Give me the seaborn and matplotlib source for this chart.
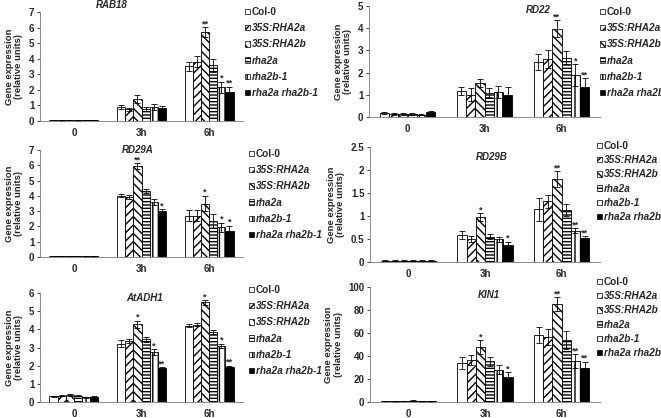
import numpy as np
import pandas as pd
import seaborn as sns
import matplotlib.pyplot as plt
from matplotlib.patches import Patch
from matplotlib.ticker import FuncFormatter

sns.set_style('white')
plt.rcParams['font.family'] = ['Liberation Sans', 'DejaVu Sans']
plt.rcParams['font.weight'] = 'bold'
plt.rcParams['hatch.linewidth'] = 1.0

times = ['0', '3h', '6h']
genotypes = ['Col-0', '35S:RHA2a', '35S:RHA2b', 'rha2a', 'rha2b-1', 'rha2a rha2b-1']

# values[genotype][time] ; errors the same ; stars per genotype for 3h / 6h
rab18_val = [[0.05, 0.92, 3.52], [0.04, 0.74, 3.8], [0.05, 1.41, 5.72],
             [0.04, 0.75, 3.58], [0.05, 0.92, 2.17], [0.05, 0.82, 1.84]]
rab18_err = [[0.01, 0.12, 0.3], [0.01, 0.1, 0.35], [0.01, 0.25, 0.3],
             [0.01, 0.12, 0.42], [0.01, 0.2, 0.35], [0.01, 0.12, 0.35]]
rab18_star = [['', '', ''], ['', '', ''], ['', '', '**'],
              ['', '', ''], ['', '', '*'], ['', '', '**']]

rd22_val = [[0.18, 1.17, 2.48], [0.15, 1.0, 2.6], [0.15, 1.52, 3.98],
            [0.12, 1.1, 2.67], [0.1, 1.12, 1.88], [0.22, 0.98, 1.37]]
rd22_err = [[0.04, 0.2, 0.38], [0.04, 0.3, 0.4], [0.04, 0.18, 0.38],
            [0.04, 0.2, 0.3], [0.03, 0.28, 0.5], [0.04, 0.35, 0.38]]
rd22_star = [['', '', ''], ['', '', ''], ['', '', '**'],
             ['', '', ''], ['', '', '*'], ['', '', '**']]

rd29a_val = [[0.05, 4.02, 2.7], [0.05, 3.92, 2.7], [0.07, 5.95, 3.5],
             [0.05, 4.32, 2.35], [0.04, 3.6, 1.95], [0.04, 3.0, 1.68]]
rd29a_err = [[0.01, 0.12, 0.35], [0.01, 0.12, 0.35], [0.02, 0.2, 0.5],
             [0.01, 0.12, 0.45], [0.01, 0.2, 0.3], [0.01, 0.12, 0.35]]
rd29a_star = [['', '', ''], ['', '', ''], ['', '**', '*'],
              ['', '', ''], ['', '', '*'], ['', '*', '*']]

rd29b_val = [[0.03, 0.58, 1.15], [0.03, 0.5, 1.32], [0.03, 0.98, 1.8],
             [0.03, 0.55, 1.13], [0.03, 0.49, 0.68], [0.03, 0.37, 0.52]]
rd29b_err = [[0.005, 0.09, 0.25], [0.005, 0.07, 0.14], [0.005, 0.08, 0.17],
             [0.005, 0.05, 0.14], [0.005, 0.05, 0.06], [0.005, 0.07, 0.04]]
rd29b_star = [['', '', ''], ['', '', ''], ['', '*', '**'],
              ['', '', ''], ['', '', '**'], ['', '*', '**']]

adh1_val = [[0.32, 3.22, 4.2], [0.35, 3.35, 4.25], [0.38, 4.27, 5.48],
            [0.35, 3.45, 3.85], [0.25, 2.75, 3.1], [0.3, 1.85, 1.95]]
adh1_err = [[0.03, 0.2, 0.08], [0.03, 0.12, 0.08], [0.05, 0.2, 0.12],
            [0.03, 0.15, 0.1], [0.05, 0.15, 0.12], [0.04, 0.05, 0.05]]
adh1_star = [['', '', ''], ['', '', ''], ['', '*', '*'],
             ['', '', ''], ['', '*', '*'], ['', '**', '**']]

kin1_val = [[1.0, 34, 58.5], [0.5, 36.5, 56.5], [1.0, 48, 85],
            [1.2, 35.5, 54], [0.5, 28, 35.5], [0.5, 22, 30]]
kin1_err = [[0.3, 5, 7], [0.3, 4, 7], [0.3, 6, 6],
            [0.5, 4, 8], [0.2, 4, 6], [0.2, 4, 5]]
kin1_star = [['', '', ''], ['', '', ''], ['', '*', '**'],
             ['', '', ''], ['', '', '**'], ['', '*', '**']]

colors = ['white', 'white', 'white', 'white', 'white', 'black']
hatches = ['', '////', '\\\\\\\\', '-----', '|||', '']
italic = [False, True, True, True, True, True]

W, H = 661, 418
fig = plt.figure(figsize=(6.61, 4.18), dpi=100)


def px(l, t, r, b):
    return [l / W, 1 - b / H, (r - l) / W, (b - t) / H]


panels = [
    ('RAB18', rab18_val, rab18_err, rab18_star, 7, 1, px(40, 12, 243, 121), (112, 5), (245, 7), 0.62),
    ('RD22', rd22_val, rd22_err, rd22_star, 5, 1, px(369, 6, 600, 117), (538, 10), (600, 7), 0.62),
    ('RD29A', rd29a_val, rd29a_err, rd29a_star, 7, 1, px(40, 150, 243, 257), (138, 150), (249, 149), 0.62),
    ('RD29B', rd29b_val, rd29b_err, rd29b_star, 2.5, 0.5, px(370, 147, 600, 262), (492, 157), (597, 141), 0.42),
    ('AtADH1', adh1_val, adh1_err, adh1_star, 6, 1, px(40, 293, 243, 402), (145, 298), (249, 285), 0.62),
    ('KIN1', kin1_val, kin1_err, kin1_star, 100, 20, px(370, 287, 600, 402), (489, 295), (597, 277), 0.42),
]

for name, val, err, star, ymax, step, rect, tpos, lpos, lspace in panels:
    rows = []
    for g, vs, es in zip(genotypes, val, err):
        for t, v, e in zip(times, vs, es):
            rows.append({'time': t, 'genotype': g, 'value': v, 'err': e})
    df = pd.DataFrame(rows)

    ax = fig.add_axes(rect)
    sns.barplot(data=df, x='time', y='value', hue='genotype', hue_order=genotypes,
                palette=colors, edgecolor='black', linewidth=0.6, width=0.72,
                gap=0, legend=False, ax=ax)

    bar_groups = list(ax.containers)
    for i, cont in enumerate(bar_groups):
        for j, bar in enumerate(cont.patches):
            bar.set_facecolor(colors[i])
            bar.set_hatch(hatches[i])
            x = bar.get_x() + bar.get_width() / 2
            y = bar.get_height()
            e = err[i][j]
            ax.errorbar(x, y, yerr=e, color='black', elinewidth=0.6,
                        capsize=2, capthick=0.6)
            if star[i][j]:
                ax.text(x, y + e - ymax * 0.01, star[i][j], ha='center',
                        va='bottom', fontsize=6.5, fontweight='bold')

    ax.set_ylim(0, ymax)
    ax.set_yticks(np.arange(0, ymax + step / 2, step))
    ax.yaxis.set_major_formatter(FuncFormatter(lambda v, p: '%g' % v))
    ax.set_xlim(-0.5, 2.5)
    ax.set_xlabel('')
    ax.set_ylabel('Gene expression\n(relative units)', fontsize=6.8,
                  fontweight='bold', labelpad=4, linespacing=1.1)
    ax.tick_params(axis='y', length=2, width=0.6, labelsize=7, pad=2, left=True)
    ax.tick_params(axis='x', length=0, labelsize=7, pad=5)
    for lab in ax.get_xticklabels() + ax.get_yticklabels():
        lab.set_fontweight('bold')
    sns.despine(ax=ax)
    for s in ['left', 'bottom']:
        ax.spines[s].set_linewidth(0.6)
        ax.spines[s].set_color('#777777')

    fig.text(tpos[0] / W, 1 - tpos[1] / H, name, ha='center', va='center',
             fontsize=7, fontweight='bold', style='italic')

    handles = [Patch(facecolor=colors[i], edgecolor='black', hatch=hatches[i],
                     linewidth=0.5) for i in range(6)]
    leg = ax.legend(handles, genotypes, loc='upper left',
                    bbox_to_anchor=(lpos[0] / W, 1 - lpos[1] / H),
                    bbox_transform=fig.transFigure, frameon=False,
                    fontsize=7.2, handlelength=0.45, handleheight=0.45,
                    handletextpad=0.25, labelspacing=lspace, borderpad=0,
                    borderaxespad=0)
    for t, it in zip(leg.get_texts(), italic):
        t.set_fontweight('bold')
        if it:
            t.set_fontstyle('italic')

fig.savefig('out.png', dpi=100)
